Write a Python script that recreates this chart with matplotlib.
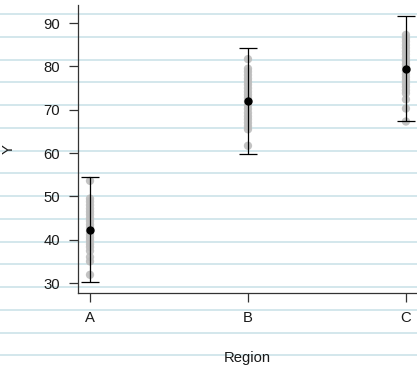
import matplotlib
matplotlib.use("Agg")
import matplotlib.pyplot as plt
import numpy as np

plt.rcParams['font.family'] = ['Liberation Sans', 'DejaVu Sans']

categories = ["A", "B", "C"]
points_A = [53.6, 49.5, 48.8, 48.0, 47.2, 46.5, 45.8, 45.0, 44.3, 43.5, 42.8, 42.0,
            41.2, 40.5, 39.8, 39.0, 38.3, 37.4, 36.0, 35.0, 31.9]
points_B = [81.7, 79.5, 78.8, 78.0, 77.2, 76.5, 75.8, 75.0, 74.2, 73.5, 72.8, 72.0,
            71.0, 70.2, 69.3, 68.5, 67.8, 67.0, 66.2, 65.5, 61.7]
points_C = [87.3, 86.5, 85.8, 85.0, 84.3, 83.5, 82.8, 82.0, 81.3, 80.5, 79.8, 79.0,
            78.2, 77.5, 76.8, 76.0, 75.3, 74.5, 73.8, 72.4, 70.3, 67.3]
means = [42.3, 72.0, 79.5]
errors = [12.1, 12.2, 12.2]
y_ticks = [30, 40, 50, 60, 70, 80, 90]

W, H = 417, 366
fig = plt.figure(figsize=(W / 100, H / 100), dpi=100)
fig.patch.set_facecolor('white')

# lined-paper background
bg = fig.add_axes([0, 0, 1, 1], zorder=0)
bg.set_xlim(0, W)
bg.set_ylim(H, 0)
bg.axis('off')
for yy in np.arange(14, H, 22.75):
    bg.axhline(yy, color='#d3e7ec', lw=1.4)

ax_left, ax_bottom, ax_top = 78, 73, 361
ax_w = W - ax_left
ax = fig.add_axes([ax_left / W, ax_bottom / H, ax_w / W, (ax_top - ax_bottom) / H], zorder=1)
ax.patch.set_alpha(0)

for i, pts in enumerate([points_A, points_B, points_C]):
    ax.scatter(np.full(len(pts), i), pts, s=36, color='#bdbdbd', alpha=0.9,
               edgecolors='none', zorder=2)

ax.errorbar(range(len(categories)), means, yerr=errors, fmt='o', color='black',
            ecolor='black', elinewidth=0.9, capsize=6.8, capthick=0.9,
            markersize=5, zorder=3)

ax.set_xlim(-0.076, 2.07)
ax.set_ylim(27.7, 94.2)
ax.set_xticks(range(len(categories)))
ax.set_xticklabels(categories)
ax.set_yticks(y_ticks)
for s in ['top', 'right']:
    ax.spines[s].set_visible(False)
for s in ['left', 'bottom']:
    ax.spines[s].set_color('#333333')
    ax.spines[s].set_linewidth(0.9)
ax.tick_params(axis='both', length=6.7, width=0.9, color='#333333',
               labelsize=10.7, pad=6, labelcolor='#1a1a1a')
ax.set_xlabel('Region', fontsize=10.7, color='#1a1a1a')
ax.set_ylabel('Y', fontsize=10.7, color='#1a1a1a')
ax.xaxis.set_label_coords(0.5, -(365 - 293) / (ax_top - ax_bottom))
ax.xaxis.label.set_va('bottom')
ax.yaxis.set_label_coords((16 - ax_left) / ax_w, 0.5)

fig.savefig('out.png', dpi=100)
